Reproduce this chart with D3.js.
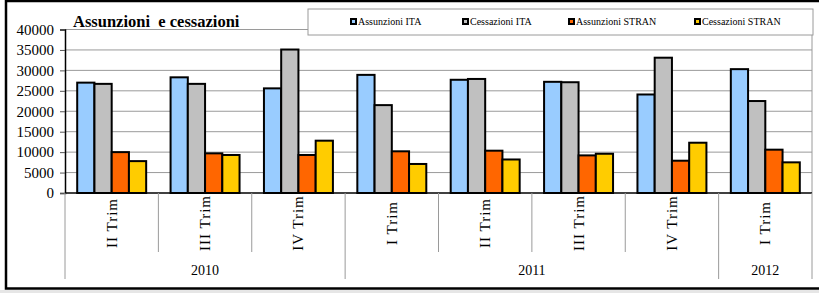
<!DOCTYPE html>
<html><head><meta charset="utf-8">
<script src="https://cdn.jsdelivr.net/npm/d3@7"></script>
<style>
html,body{margin:0;padding:0;background:#fff;}
svg{display:block;}
svg text{font-family:"Liberation Serif","Times New Roman",serif;}
</style></head>
<body><svg id="c" width="819" height="293"></svg>
<script>
const quarters = ["II Trim","III Trim","IV Trim","I Trim","II Trim","III Trim","IV Trim","I Trim"];
const years = ["2010","2011","2012"];
const yearSpans = [3,4,1];
const seriesNames = ["Assunzioni ITA","Cessazioni ITA","Assunzioni STRAN","Cessazioni STRAN"];
const seriesColors = ["#99CCFF","#C0C0C0","#FF6600","#FFCC00"];
const assunzioniITA = [27000,28300,25600,28900,27700,27200,24100,30300];
const cessazioniITA = [26700,26700,35100,21500,27900,27100,33100,22500];
const assunzioniSTRAN = [10000,9700,9300,10200,10350,9200,7900,10600];
const cessazioniSTRAN = [7800,9300,12800,7100,8200,9600,12300,7500];
const yTicks = [0,5000,10000,15000,20000,25000,30000,35000,40000];
const title = "Assunzioni  e cessazioni";

const series = [assunzioniITA,cessazioniITA,assunzioniSTRAN,cessazioniSTRAN];
const svg = d3.select("#c");
const FF = "Liberation Serif, Times New Roman, serif";
const L=65, R=812, T=29.5, B=193;

svg.append("rect").attr("x",0).attr("y",290).attr("width",819).attr("height",3).attr("fill","#e6e6e6");
svg.append("rect").attr("x",6).attr("y",1).attr("width",820).attr("height",287.5)
  .attr("fill","#fff").attr("stroke","#000").attr("stroke-width",2.5);

const x = d3.scaleBand().domain(d3.range(quarters.length)).range([L,R]).padding(0);
const xs = d3.scaleBand().domain(d3.range(series.length)).range([12.2, x.bandwidth()-12.2]).padding(0);
const y = d3.scaleLinear().domain([0,40000]).range([B,T]);

svg.append("g").selectAll("line").data(yTicks.filter(d=>d>0)).join("line")
  .attr("x1",L).attr("x2",R).attr("y1",d=>y(d)).attr("y2",d=>y(d))
  .attr("stroke","#9a9a9a").attr("stroke-width",1);
svg.append("line").attr("x1",R).attr("x2",R).attr("y1",T).attr("y2",B).attr("stroke","#9a9a9a");

const ya = svg.append("g").attr("transform",`translate(${L},0)`)
  .call(d3.axisLeft(y).tickValues(yTicks).tickSize(5).tickFormat(d3.format("d")));
ya.attr("font-family",FF);
ya.select(".domain").attr("stroke","#000").attr("stroke-width",1.5);
ya.selectAll(".tick line").attr("stroke","#555");
ya.selectAll("text").attr("font-size",15).attr("fill","#000").attr("x",-11);

const g = svg.append("g");
series.forEach((s,si)=>{
  g.append("g").selectAll("rect").data(s).join("rect")
    .attr("x",(d,i)=>x(i)+xs(si)).attr("width",xs.bandwidth())
    .attr("y",d=>y(d)).attr("height",d=>y(0)-y(d))
    .attr("fill",seriesColors[si]).attr("stroke","#000").attr("stroke-width",2);
});

svg.append("line").attr("x1",L).attr("x2",R).attr("y1",B).attr("y2",B).attr("stroke","#000").attr("stroke-width",1.5);

const bounds = d3.range(quarters.length+1).map(i=> i<quarters.length ? x(i) : R);
const yearBounds = [0]; yearSpans.forEach(s=>yearBounds.push(yearBounds[yearBounds.length-1]+s));
bounds.forEach((bx,i)=>{
  const long = yearBounds.includes(i);
  svg.append("line").attr("x1",bx).attr("x2",bx).attr("y1",B).attr("y2",long?279:252)
    .attr("stroke","#9a9a9a").attr("stroke-width",1);
});
svg.append("g").attr("font-family",FF).selectAll("text").data(quarters).join("text")
  .attr("transform",(d,i)=>`translate(${x(i)+x.bandwidth()/2+5},223) rotate(-90)`)
  .attr("text-anchor","middle").attr("font-size",15).attr("letter-spacing",1).text(d=>d);
svg.append("g").attr("font-family",FF).selectAll("text").data(years).join("text")
  .attr("x",(d,i)=>(bounds[yearBounds[i]]+bounds[yearBounds[i+1]])/2).attr("y",275)
  .attr("text-anchor","middle").attr("font-size",14).text(d=>d);

svg.append("text").attr("x",73).attr("y",27).attr("font-size",16.5).attr("font-weight","bold")
  .attr("font-family",FF).style("white-space","pre").text(title);

const lg = svg.append("g").attr("font-family",FF);
lg.append("rect").attr("x",308).attr("y",9).attr("width",505).attr("height",26)
  .attr("fill","#fff").attr("stroke","#9a9a9a").attr("stroke-width",1);
const legX = [350,462,568,694];
seriesNames.forEach((n,i)=>{
  lg.append("rect").attr("x",legX[i]+1).attr("y",19).attr("width",5).attr("height",5)
    .attr("fill",seriesColors[i]).attr("stroke","#000").attr("stroke-width",2);
  lg.append("text").attr("x",legX[i]+8).attr("y",25).attr("font-size",10).text(n);
});
</script></body></html>
